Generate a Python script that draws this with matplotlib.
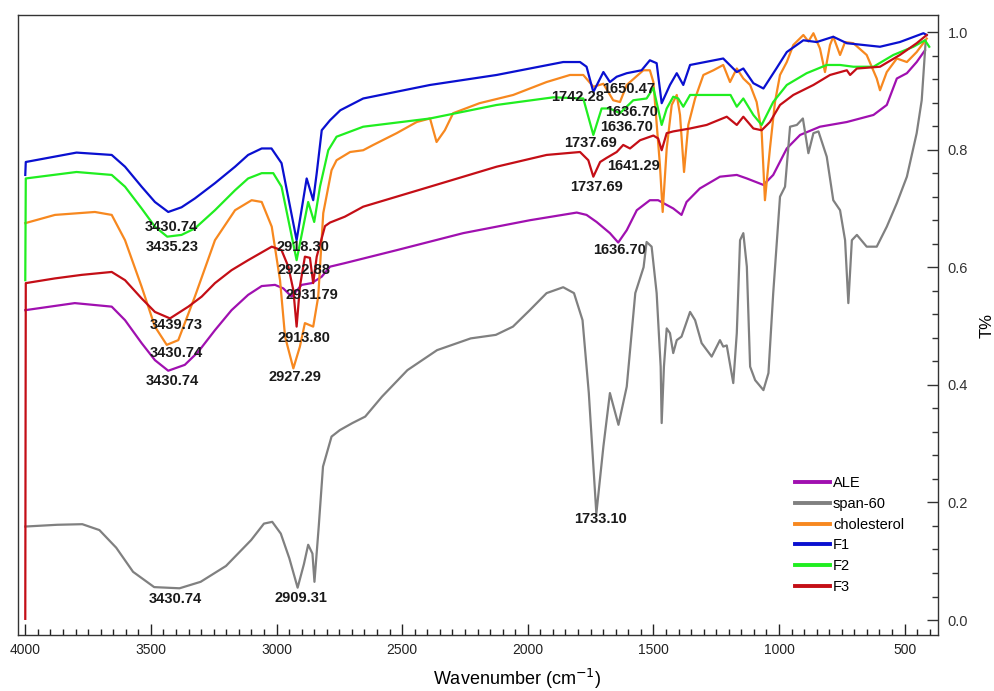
import matplotlib
matplotlib.use('Agg')
import matplotlib.pyplot as plt
from matplotlib.ticker import MultipleLocator

# ---- spectra (wavenumber cm-1, T) ----
ale_wn = [4000, 3803, 3656, 3603, 3537, 3484, 3431, 3365, 3312, 3245, 3179, 3113, 3059, 3006, 2973,
          2940, 2900, 2860, 2820, 2787, 2728, 2522, 2257, 1991, 1805, 1766, 1726, 1673, 1640, 1606,
          1566, 1514, 1481, 1447, 1421, 1388, 1368, 1315, 1235, 1168, 1128, 1062, 1023, 969, 916,
          837, 730, 624, 571, 531, 491, 452, 419]
ale_t = [0.527, 0.539, 0.533, 0.510, 0.471, 0.442, 0.424, 0.434, 0.456, 0.493, 0.527, 0.553, 0.568, 0.570, 0.564,
         0.550, 0.570, 0.573, 0.584, 0.601, 0.607, 0.629, 0.658, 0.680, 0.693, 0.689, 0.677, 0.658, 0.642, 0.663,
         0.697, 0.714, 0.714, 0.706, 0.700, 0.689, 0.711, 0.734, 0.754, 0.757, 0.751, 0.740, 0.757, 0.802, 0.825,
         0.839, 0.847, 0.859, 0.876, 0.921, 0.930, 0.949, 0.969]

span_wn = [4000, 3873, 3773, 3705, 3638, 3571, 3487, 3386, 3302, 3201, 3101, 3050, 3017, 2983, 2949,
           2916, 2891, 2874, 2857, 2849, 2832, 2815, 2781, 2748, 2698, 2647, 2580, 2479, 2361, 2227,
           2127, 2059, 1992, 1925, 1859, 1816, 1782, 1757, 1727, 1699, 1673, 1639, 1606, 1572, 1539,
           1527, 1507, 1487, 1471, 1467, 1458, 1447, 1434, 1421, 1407, 1388, 1354, 1334, 1308, 1268,
           1235, 1222, 1208, 1182, 1168, 1155, 1142, 1128, 1115, 1095, 1062, 1042, 1023, 996, 976,
           956, 929, 905, 883, 863, 843, 810, 784, 757, 737, 724, 710, 690, 651, 611,
           571, 531, 491, 452, 432, 416]
span_t = [0.159, 0.162, 0.163, 0.153, 0.123, 0.082, 0.056, 0.054, 0.065, 0.092, 0.136, 0.164, 0.167, 0.147, 0.105,
          0.055, 0.095, 0.128, 0.113, 0.065, 0.159, 0.261, 0.312, 0.323, 0.335, 0.346, 0.380, 0.425, 0.459, 0.479,
          0.485, 0.499, 0.527, 0.556, 0.566, 0.556, 0.510, 0.386, 0.181, 0.295, 0.386, 0.332, 0.397, 0.556, 0.600,
          0.643, 0.635, 0.556, 0.431, 0.335, 0.431, 0.496, 0.488, 0.454, 0.476, 0.482, 0.524, 0.510, 0.471, 0.448,
          0.476, 0.465, 0.467, 0.403, 0.488, 0.646, 0.658, 0.601, 0.431, 0.408, 0.391, 0.420, 0.556, 0.720, 0.737,
          0.839, 0.842, 0.853, 0.794, 0.828, 0.831, 0.788, 0.714, 0.697, 0.646, 0.539, 0.646, 0.655, 0.635, 0.635,
          0.669, 0.709, 0.754, 0.828, 0.884, 0.986]

chol_wn = [4000, 3882, 3723, 3656, 3603, 3537, 3484, 3437, 3391, 3325, 3245, 3165, 3099, 3059, 3019,
           2986, 2966, 2933, 2907, 2887, 2854, 2834, 2814, 2781, 2761, 2707, 2655, 2615, 2522, 2442,
           2389, 2363, 2330, 2297, 2192, 2058, 1925, 1832, 1779, 1739, 1699, 1660, 1633, 1606, 1540,
           1514, 1500, 1474, 1463, 1447, 1427, 1407, 1394, 1378, 1361, 1334, 1301, 1261, 1222, 1195,
           1168, 1142, 1115, 1089, 1069, 1056, 1036, 1016, 996, 969, 943, 903, 883, 863, 837,
           817, 797, 784, 757, 737, 704, 651, 611, 598, 571, 531, 491, 452, 412]
chol_t = [0.675, 0.689, 0.694, 0.689, 0.646, 0.567, 0.499, 0.468, 0.476, 0.550, 0.646, 0.697, 0.714, 0.711, 0.669,
          0.578, 0.482, 0.428, 0.465, 0.505, 0.499, 0.550, 0.692, 0.765, 0.782, 0.796, 0.799, 0.808, 0.828, 0.847,
          0.853, 0.813, 0.833, 0.862, 0.879, 0.893, 0.915, 0.927, 0.927, 0.907, 0.912, 0.884, 0.881, 0.910, 0.935,
          0.935, 0.915, 0.774, 0.694, 0.802, 0.876, 0.893, 0.859, 0.762, 0.842, 0.887, 0.927, 0.935, 0.944, 0.915,
          0.938, 0.921, 0.910, 0.881, 0.830, 0.714, 0.802, 0.881, 0.927, 0.949, 0.978, 0.995, 0.984, 0.998, 0.972,
          0.932, 0.978, 0.992, 0.961, 0.983, 0.981, 0.961, 0.921, 0.901, 0.932, 0.955, 0.949, 0.966, 0.989]

f1_wn = [4000, 3998, 3796, 3656, 3603, 3537, 3484, 3431, 3378, 3325, 3245, 3165, 3113, 3059, 3020,
         2980, 2920, 2880, 2854, 2840, 2820, 2787, 2746, 2655, 2389, 2124, 1859, 1792, 1766, 1739,
         1699, 1673, 1646, 1606, 1547, 1514, 1487, 1467, 1434, 1407, 1381, 1354, 1222, 1168, 1142,
         1102, 1062, 1009, 969, 903, 850, 784, 730, 598, 519, 425, 412]
f1_t = [0.757, 0.779, 0.795, 0.791, 0.771, 0.737, 0.711, 0.694, 0.702, 0.717, 0.743, 0.771, 0.791, 0.802, 0.802,
        0.777, 0.646, 0.751, 0.714, 0.760, 0.833, 0.850, 0.867, 0.887, 0.910, 0.927, 0.949, 0.949, 0.941, 0.898,
        0.932, 0.915, 0.924, 0.930, 0.935, 0.952, 0.947, 0.879, 0.910, 0.930, 0.910, 0.944, 0.955, 0.932, 0.938,
        0.913, 0.904, 0.939, 0.966, 0.986, 0.983, 0.992, 0.981, 0.975, 0.983, 0.998, 0.995]

f2_wn = [4000, 3998, 3796, 3656, 3603, 3537, 3484, 3435, 3378, 3325, 3245, 3165, 3113, 3059, 3013,
         2980, 2920, 2874, 2850, 2827, 2794, 2761, 2655, 2389, 2124, 1898, 1779, 1739, 1706, 1673,
         1633, 1580, 1527, 1500, 1467, 1447, 1421, 1401, 1381, 1354, 1193, 1168, 1142, 1102, 1069,
         1023, 969, 890, 810, 757, 704, 624, 545, 465, 419, 402]
f2_t = [0.578, 0.751, 0.762, 0.757, 0.737, 0.700, 0.669, 0.652, 0.655, 0.666, 0.697, 0.731, 0.751, 0.760, 0.760,
        0.737, 0.612, 0.711, 0.677, 0.737, 0.799, 0.822, 0.839, 0.853, 0.876, 0.889, 0.887, 0.825, 0.870, 0.870,
        0.862, 0.884, 0.887, 0.905, 0.842, 0.870, 0.890, 0.887, 0.873, 0.893, 0.893, 0.873, 0.887, 0.859, 0.842,
        0.881, 0.910, 0.930, 0.944, 0.944, 0.941, 0.941, 0.961, 0.975, 0.986, 0.975]

f3_wn = [4000, 3998, 3882, 3776, 3656, 3603, 3537, 3484, 3424, 3351, 3298, 3245, 3179, 3113, 3019,
         2980, 2953, 2933, 2920, 2907, 2887, 2867, 2854, 2840, 2807, 2787, 2728, 2655, 2389, 2124,
         1925, 1792, 1759, 1739, 1712, 1686, 1646, 1620, 1593, 1553, 1500, 1481, 1467, 1447, 1421,
         1354, 1288, 1208, 1168, 1142, 1102, 1069, 1036, 996, 943, 863, 797, 730, 717, 690,
         598, 519, 452, 412]
f3_t = [0.002, 0.573, 0.581, 0.587, 0.592, 0.578, 0.547, 0.524, 0.513, 0.533, 0.550, 0.573, 0.595, 0.612, 0.635,
        0.629, 0.601, 0.561, 0.499, 0.567, 0.618, 0.616, 0.573, 0.618, 0.670, 0.676, 0.686, 0.703, 0.737, 0.771,
        0.791, 0.796, 0.782, 0.754, 0.779, 0.786, 0.796, 0.808, 0.802, 0.816, 0.824, 0.819, 0.799, 0.828, 0.831,
        0.836, 0.842, 0.856, 0.842, 0.856, 0.836, 0.833, 0.847, 0.876, 0.893, 0.910, 0.927, 0.935, 0.927, 0.938,
        0.941, 0.961, 0.981, 0.995]

series_names = ['ALE', 'span-60', 'cholesterol', 'F1', 'F2', 'F3']
series_colors = ['#A010B0', '#808080', '#F7881F', '#0A10D0', '#20EE20', '#C40E16']

# peak labels (text, wavenumber, T position of the label)
peak_text = ['3430.74', '3435.23', '3439.73', '3430.74', '3430.74',
             '2918.30', '2922.88', '2931.79', '2913.80', '2927.29',
             '1742.28', '1650.47', '1636.70', '1636.70', '1737.69', '1641.29', '1737.69', '1636.70',
             '1733.10', '3430.74', '2909.31']
peak_wn = [3420, 3414, 3398, 3398, 3414,
           2894, 2891, 2860, 2890, 2927,
           1803, 1597, 1586, 1606, 1749, 1580, 1728, 1636,
           1710, 3403, 2903]
peak_t = [0.668, 0.634, 0.502, 0.454, 0.407,
          0.635, 0.595, 0.553, 0.479, 0.413,
          0.889, 0.903, 0.864, 0.838, 0.811, 0.773, 0.737, 0.629,
          0.171, 0.035, 0.037]

fig = plt.figure(figsize=(9.94, 6.91), dpi=100)
ax = fig.add_axes([0.0181, 0.081, 0.9256, 0.8973])

all_wn = [ale_wn, span_wn, chol_wn, f1_wn, f2_wn, f3_wn]
all_t = [ale_t, span_t, chol_t, f1_t, f2_t, f3_t]
for wn, t, name, col in zip(all_wn, all_t, series_names, series_colors):
    ax.plot(wn, t, color=col, lw=1.6, label=name)

for txt, w, t in zip(peak_text, peak_wn, peak_t):
    ax.text(w, t, txt, ha='center', va='center', fontsize=10.5, fontweight='bold',
            family='Liberation Sans', color='#1a1a1a')

ax.set_xlim(4029, 367)
ax.set_ylim(-0.0255, 1.029)

ax.xaxis.set_major_locator(MultipleLocator(500))
ax.xaxis.set_minor_locator(MultipleLocator(50))
ax.yaxis.set_major_locator(MultipleLocator(0.2))
ax.yaxis.set_minor_locator(MultipleLocator(0.04))
ax.yaxis.set_major_formatter(matplotlib.ticker.FormatStrFormatter('%.1f'))

ax.tick_params(axis='x', which='both', direction='in', bottom=True, top=False, pad=6,
               labelsize=10, colors='#222222')
ax.tick_params(axis='y', which='both', direction='in', left=False, right=True,
               labelleft=False, labelright=True, pad=7, labelsize=10.5, colors='#333333')
ax.tick_params(which='major', length=8, width=1)
ax.tick_params(which='minor', length=4, width=1)
for lab in ax.get_xticklabels():
    lab.set_family(['Liberation Sans Narrow', 'Liberation Sans'])
for lab in ax.get_yticklabels():
    lab.set_family('Liberation Sans')

for sp in ax.spines.values():
    sp.set_color('#333333')
    sp.set_linewidth(1.0)

ax.set_xlabel('Wavenumber (cm$^{-1}$)', fontsize=13, family=['Liberation Sans Narrow', 'Liberation Sans'])
ax.xaxis.set_label_coords(0.5424, -0.052)
ax.yaxis.set_label_position('right')
ax.set_ylabel('T%', fontsize=12, family='Liberation Sans', rotation=90, labelpad=8)

leg = ax.legend(loc='upper left', bbox_to_anchor=(0.8366, 0.2678), frameon=False, borderpad=0,
                handlelength=2.4, handletextpad=0.2, labelspacing=0.46,
                prop={'family': 'Liberation Sans', 'size': 10.5})
for ln in leg.get_lines():
    ln.set_linewidth(2.8)

fig.savefig('out.png', dpi=100)
